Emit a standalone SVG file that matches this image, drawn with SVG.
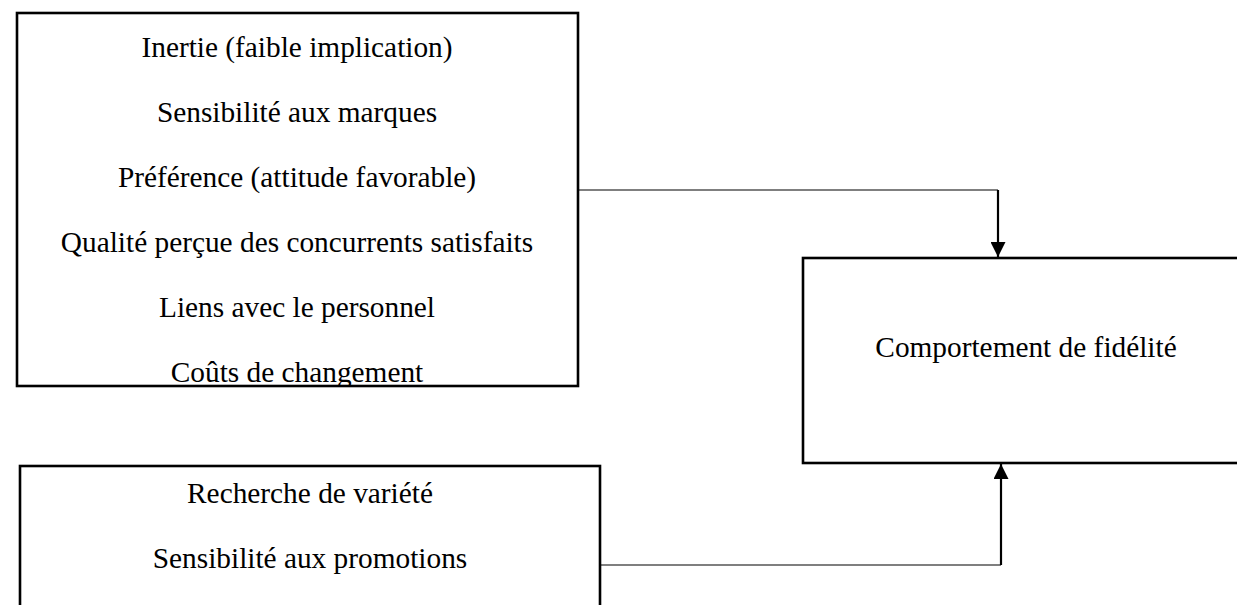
<svg xmlns="http://www.w3.org/2000/svg" width="1237" height="605" viewBox="0 0 1237 605">
<style>
.box{fill:#fff;stroke:#000;stroke-width:2.6}
.t{font-family:"Liberation Serif","Times New Roman",serif;font-size:29.33px;fill:#000;text-anchor:middle}
.c{fill:none;stroke:#000;stroke-width:1.2}
.cv{fill:none;stroke:#000;stroke-width:2.2}
</style>
<defs>
<marker id="ah" markerWidth="15" markerHeight="15" refX="15" refY="7.5" orient="auto" markerUnits="userSpaceOnUse" viewBox="0 0 15 15">
<path d="M0,0 L15,7.5 L0,15 Z" fill="#000"/>
</marker>
<clipPath id="clipTop"><rect x="17" y="13" width="561" height="372"/></clipPath>
</defs>
<rect width="1237" height="605" fill="#fff"/>
<g id="connectors">
<path class="c" d="M578,190 H998"/>
<path class="cv" d="M998,190 V257" marker-end="url(#ah)"/>
<path class="c" d="M600,565 H1001"/>
<path class="cv" d="M1001,565 V464" marker-end="url(#ah)"/>
</g>
<g id="node-facteurs-positifs">
<rect class="box" x="17" y="13" width="561" height="373"/>
<g clip-path="url(#clipTop)">
<text class="t" x="297" y="57">Inertie (faible implication)</text>
<text class="t" x="297" y="122">Sensibilité aux marques</text>
<text class="t" x="297" y="187">Préférence (attitude favorable)</text>
<text class="t" x="297" y="252">Qualité perçue des concurrents satisfaits</text>
<text class="t" x="297" y="317">Liens avec le personnel</text>
<text class="t" x="297" y="382">Coûts de changement</text>
</g>
</g>
<g id="node-comportement">
<rect class="box" x="803" y="258" width="450" height="205"/>
<text class="t" x="1026" y="357">Comportement de fidélité</text>
</g>
<g id="node-facteurs-negatifs">
<rect class="box" x="20" y="466" width="580" height="160"/>
<text class="t" x="310" y="503">Recherche de variété</text>
<text class="t" x="310" y="568">Sensibilité aux promotions</text>
</g>
</svg>
